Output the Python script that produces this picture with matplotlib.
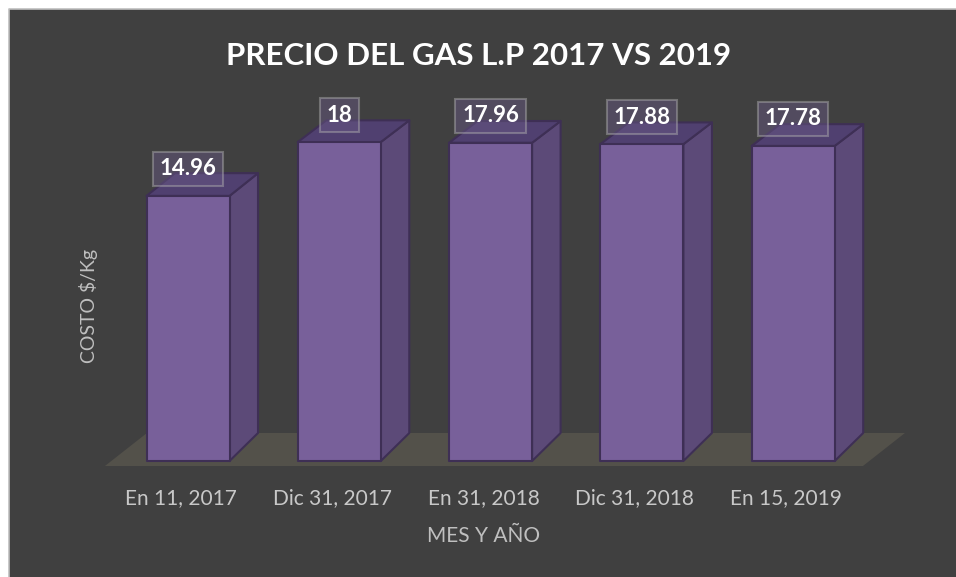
import matplotlib
matplotlib.use("Agg")
import matplotlib.pyplot as plt
from matplotlib.patches import Polygon, Rectangle
from matplotlib.lines import Line2D

categories = ["En 11, 2017", "Dic 31, 2017", "En 31, 2018", "Dic 31, 2018", "En 15, 2019"]
values = [14.96, 18, 17.96, 17.88, 17.78]
value_labels = ["14.96", "18", "17.96", "17.88", "17.78"]
title = "PRECIO DEL GAS L.P 2017 VS 2019"
ylabel = "COSTO $/Kg"
xlabel = "MES Y AÑO"

W, H = 956, 577
fig = plt.figure(figsize=(W / 100, H / 100), dpi=100)
fig.patch.set_facecolor("white")

# chart area background (extends past right/bottom edges)
fig.patches.append(Rectangle((9 / W, -0.1), 1.2, (H - 9) / H + 0.1, transform=fig.transFigure,
                             facecolor="#404040", edgecolor="none", zorder=-5))
fig.lines.append(Line2D([9 / W, 9 / W, 1.1], [-0.1, (H - 9) / H, (H - 9) / H], transform=fig.transFigure,
                        color="#bfbfbf", linewidth=1.2, zorder=-4))

ax = fig.add_axes([0, 0, 1, 1])
ax.set_facecolor("none")
ax.axis("off")

# pixel mapping: category i front-centre at px 188 + 151.3*i; value 0 at py 461, 17.72 px/unit
sx, sy = 151.3, 17.72
x0px, y0px = 188, 461
ax.set_xlim(-x0px / sx, (W - x0px) / sx)
ax.set_ylim(-(H - y0px) / sy, y0px / sy)

font = "Lato"
front_c, side_c, top_c, edge_c = "#78609a", "#5c4a78", "#504070", "#3e2f55"
floor_c = "#53514a"

# floor
fy0, fy1 = -5 / sy, 28 / sy
fxl, fxr, fdx = -0.549, 4.461, 42 / sx
ax.add_patch(Polygon([(fxl, fy0), (fxr, fy0), (fxr + fdx, fy1), (fxl + fdx, fy1)],
                     closed=True, facecolor=floor_c, edgecolor="none", zorder=1))

w = 83 / sx
dx = 28.5 / sx
for i, v in enumerate(values):
    l = i - w / 2
    r = l + w
    dyb = 28 / sy
    dyt = (28 - 0.35 * v) / sy
    side = [(r, 0), (r + dx, dyb), (r + dx, v + dyt), (r, v)]
    top = [(l, v), (r, v), (r + dx, v + dyt), (l + dx, v + dyt)]
    front = [(l, 0), (r, 0), (r, v), (l, v)]
    for pts, c in ((side, side_c), (top, top_c), (front, front_c)):
        ax.add_patch(Polygon(pts, closed=True, facecolor=c, edgecolor=edge_c,
                             linewidth=1.5, joinstyle="round", zorder=2))
    ax.text(i, v + 27 / sy, value_labels[i], ha="center", va="center", fontsize=16,
            fontweight="bold", color="white", family=font, zorder=4,
            bbox=dict(boxstyle="square,pad=0.3", facecolor="#6a5a85", alpha=0.45,
                      edgecolor="#b0b0b0", linewidth=1.5))
    ax.text(i - 7 / sx, -43 / sy, categories[i], ha="center", va="baseline",
            fontsize=15, color="#c8c8c8", family=font, zorder=3)

fig.text(479 / W, (H - 65) / H, title, ha="center", va="baseline", fontsize=22.5,
         fontweight="bold", color="white", family=font)
fig.text(89 / W, (H - 306) / H, ylabel, ha="center", va="center", rotation=90,
         fontsize=14, color="#bfbfbf", family=font)
fig.text(484 / W, (H - 542) / H, xlabel, ha="center", va="baseline",
         fontsize=15, color="#bfbfbf", family=font)

fig.savefig("out.png", dpi=100, facecolor=fig.get_facecolor())
